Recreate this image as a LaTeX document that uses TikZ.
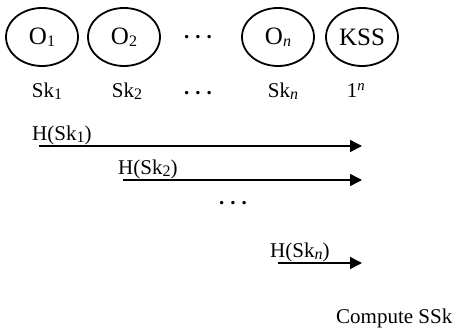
\documentclass[tikz,border=0pt]{standalone}
\usepackage{fontspec}
\setmainfont{Liberation Serif}
\usetikzlibrary{arrows.meta,shapes.geometric}
\newcommand{\sbx}[1]{\raisebox{-0.2ex}{\fontsize{16}{16}\selectfont #1}}
\newcommand{\tdots}{{\bfseries .\hspace{6pt}.\hspace{6pt}.}}
\begin{document}
\begin{tikzpicture}[x=1pt,y=1pt,
  party/.style={draw, line width=1.8pt, ellipse, minimum width=72pt, minimum height=58pt, inner sep=0pt, font=\fontsize{25}{28}\selectfont},
  lbl/.style={font=\fontsize{21}{24}\selectfont, inner sep=0pt},
  msg/.style={line width=1.6pt, -{Triangle[length=12pt,width=12pt]}}]
\useasboundingbox (0,0) rectangle (456,-331);
\node[party] (o1) at (42,-37) {O\sbx{1}};
\node[party] (o2) at (124,-37) {O\sbx{2}};
\node[lbl] (d1) at (198,-37) {\tdots};
\node[party] (on) at (278,-37) {O\sbx{\itshape n}};
\node[party] (kss) at (362,-37) {KSS};
\node[lbl, anchor=base] (s1) at (47,-98) {Sk\sbx{1}};
\node[lbl, anchor=base] (s2) at (127,-98) {Sk\sbx{2}};
\node[lbl] (d2) at (198,-93) {\tdots};
\node[lbl, anchor=base] (sn) at (283,-98) {Sk\sbx{\itshape n}};
\node[lbl, anchor=base] (one) at (356,-98) {1\textsuperscript{\itshape n}};
\coordinate (a1s) at (39,-146); \coordinate (a1e) at (362,-146);
\coordinate (a2s) at (123,-180); \coordinate (a2e) at (362,-180);
\coordinate (a3s) at (278,-263); \coordinate (a3e) at (362,-263);
\draw[msg] (a1s) -- (a1e);
\draw[msg] (a2s) -- (a2e);
\draw[msg] (a3s) -- (a3e);
\node[lbl, anchor=base west] (h1) at (32,-141) {H(Sk\sbx{1})};
\node[lbl, anchor=base west] (h2) at (118,-175) {H(Sk\sbx{2})};
\node[lbl] (d3) at (233,-203) {\tdots};
\node[lbl, anchor=base west] (hn) at (270,-258) {H(Sk\sbx{\itshape n})};
\node[lbl, anchor=west] (cs) at (336,-318) {Compute SSk};
\end{tikzpicture}
\end{document}
